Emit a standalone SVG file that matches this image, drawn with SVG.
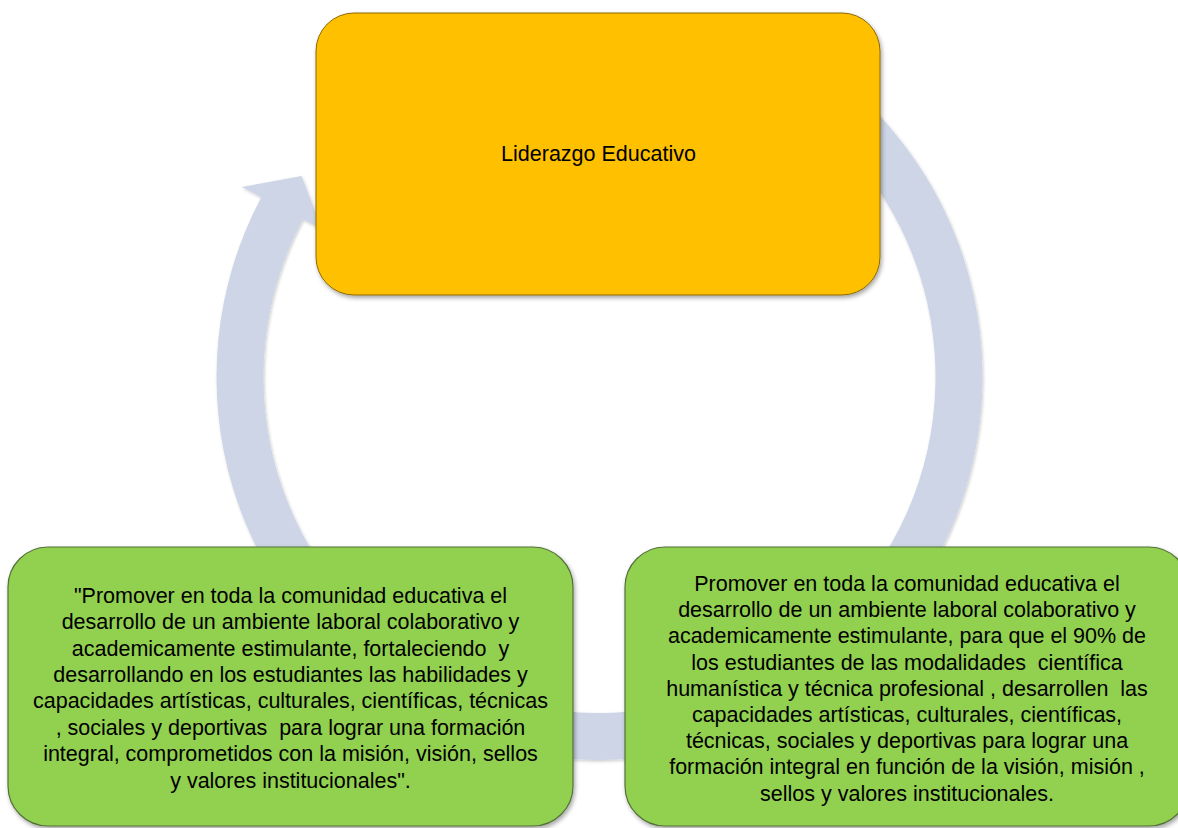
<svg xmlns="http://www.w3.org/2000/svg" width="1178" height="828" viewBox="0 0 1178 828">
  <defs>
    <filter id="sh" x="-10%" y="-10%" width="120%" height="120%">
      <feDropShadow dx="1.5" dy="2.5" stdDeviation="2" flood-color="#000" flood-opacity="0.35"/>
    </filter>
    <filter id="shRing" x="-10%" y="-10%" width="120%" height="120%">
      <feDropShadow dx="1" dy="1.5" stdDeviation="1.5" flood-color="#000" flood-opacity="0.2"/>
    </filter>
  </defs>
  <style>
    .ring { fill: #CDD5E6; }
    .top { fill: #FFC000; stroke: #8C6A00; stroke-width: 1; }
    .green { fill: #92D050; stroke: #55713A; stroke-width: 1.2; }
    text { font-family: "Liberation Sans", Arial, sans-serif; font-size: 21.5px; fill: #000; text-anchor: middle; white-space: pre; }
  </style>
  <rect width="1178" height="828" fill="#FFFFFF"/>

  <g id="connectors">
    <path class="ring" filter="url(#shRing)" d="M 791.0 45.3 A 383 383 0 1 1 261.3 197.2 L 241.9 186.9 L 301.5 176.0 L 322.3 229.6 L 302.8 219.3 A 336 336 0 1 0 767.5 86.0 Z"/>
  </g>

  <g id="node-top">
    <rect class="top" filter="url(#sh)" x="316" y="13" width="564" height="282" rx="38" ry="38"/>
    <text x="598.5" y="161">Liderazgo Educativo</text>
  </g>

  <g id="node-left">
    <rect class="green" filter="url(#sh)" x="8" y="547" width="565" height="279" rx="40" ry="40"/>
    <text x="290.5" y="602.7" xml:space="preserve">"Promover en toda la comunidad educativa el</text>
    <text x="290.5" y="629.1" xml:space="preserve">desarrollo de un ambiente laboral colaborativo y</text>
    <text x="290.5" y="655.5" xml:space="preserve">academicamente estimulante, fortaleciendo  y</text>
    <text x="290.5" y="681.9" xml:space="preserve">desarrollando en los estudiantes las habilidades y</text>
    <text x="290.5" y="708.3" xml:space="preserve">capacidades artísticas, culturales, científicas, técnicas</text>
    <text x="290.5" y="734.7" xml:space="preserve">, sociales y deportivas  para lograr una formación</text>
    <text x="290.5" y="761.1" xml:space="preserve">integral, comprometidos con la misión, visión, sellos</text>
    <text x="290.5" y="787.5" xml:space="preserve">y valores institucionales".</text>
  </g>

  <g id="node-right">
    <rect class="green" filter="url(#sh)" x="625" y="547" width="564" height="279" rx="40" ry="40"/>
    <text x="907" y="591" xml:space="preserve">Promover en toda la comunidad educativa el</text>
    <text x="907" y="617.2" xml:space="preserve">desarrollo de un ambiente laboral colaborativo y</text>
    <text x="907" y="643.4" xml:space="preserve">academicamente estimulante, para que el 90% de</text>
    <text x="907" y="669.6" xml:space="preserve">los estudiantes de las modalidades  científica</text>
    <text x="907" y="695.8" xml:space="preserve">humanística y técnica profesional , desarrollen  las</text>
    <text x="907" y="722" xml:space="preserve">capacidades artísticas, culturales, científicas,</text>
    <text x="907" y="748.2" xml:space="preserve">técnicas, sociales y deportivas para lograr una</text>
    <text x="907" y="774.4" xml:space="preserve">formación integral en función de la visión, misión ,</text>
    <text x="907" y="800.6" xml:space="preserve">sellos y valores institucionales.</text>
  </g>
</svg>
